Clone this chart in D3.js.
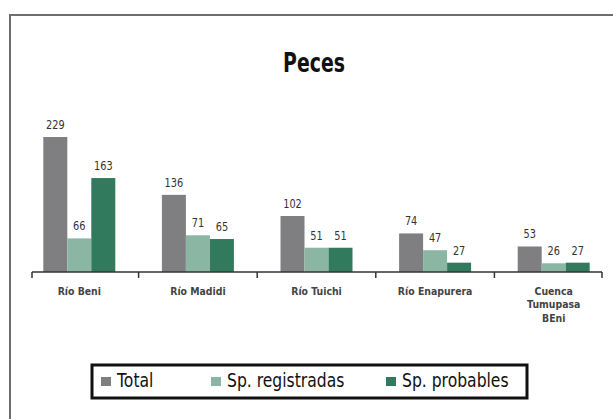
<!DOCTYPE html>
<html>
<head>
<meta charset="utf-8">
<style>
    body { margin: 0; background: #fff; }
    svg { display: block; font-family: 'DejaVu Sans', sans-serif; }
</style>
</head>
<body>
<svg width="613" height="419"></svg>
<script src="https://d3js.org/d3.v7.min.js"></script>
<script>
    // data
    let categories = ["Río Beni", "Río Madidi", "Río Tuichi", "Río Enapurera", "Cuenca\nTumupasa\nBEni"];
    let seriesNames = ["Total", "Sp. registradas", "Sp. probables"];
    let total = [229, 136, 102, 74, 53];
    let registradas = [66, 71, 51, 47, 26];
    let probables = [163, 65, 51, 27, 27];
    let colors = ["#7f7f81", "#8cb6a4", "#327a5e"];

    let series = [total, registradas, probables];
    let rows = categories.map((c, i) => ({ cat: c, vals: series.map(s => s[i]) }));

    let svg = d3.select("svg");

    // no condensed font installed, so squeeze text horizontally
    function squeeze(px, py, sx) {
        return "translate(" + px + "," + py + ") scale(" + sx + ",1)";
    }

    // outer frame (runs off the right / bottom edge)
    svg.append("rect")
        .attr("x", 10).attr("y", 15)
        .attr("width", 620).attr("height", 420)
        .style("fill", "none")
        .style("stroke", "#6d6d6d")
        .style("stroke-width", 2);

    svg.append("text")
        .attr("transform", squeeze(314, 72, 0.7))
        .attr("text-anchor", "middle")
        .style("font-size", "27px")
        .style("font-weight", "bold")
        .style("fill", "#111")
        .text("Peces");

    let baseY = 272;
    let x = d3.scaleBand()
        .domain(categories)
        .range([20, 613]);

    let xInner = d3.scaleBand()
        .domain(seriesNames)
        .range([0, 72]);

    // the printed chart's bars don't start from zero at the baseline
    let y = d3.scaleLinear()
        .domain([12, 229])
        .range([baseY, 137]);

    let groups = svg.selectAll(".grp")
        .data(rows)
        .join("g")
        .attr("class", "grp")
        .attr("transform", d => "translate(" + (x(d.cat) + x.bandwidth() / 2 - 36) + ",0)");

    groups.selectAll("rect")
        .data(d => d.vals.map((v, i) => ({ v: v, s: seriesNames[i], i: i })))
        .join("rect")
        .attr("x", d => xInner(d.s))
        .attr("width", xInner.bandwidth())
        .attr("y", d => y(d.v))
        .attr("height", d => baseY - y(d.v))
        .style("fill", d => colors[d.i]);

    groups.selectAll(".val")
        .data(d => d.vals.map((v, i) => ({ v: v, s: seriesNames[i] })))
        .join("text")
        .attr("class", "val")
        .attr("transform", d => squeeze(xInner(d.s) + xInner.bandwidth() / 2, y(d.v) - 8, 0.75))
        .attr("text-anchor", "middle")
        .style("font-size", "13px")
        .style("fill", "#333")
        .text(d => d.v);

    // axis line + ticks
    svg.append("line")
        .attr("x1", 32).attr("x2", 602)
        .attr("y1", baseY).attr("y2", baseY)
        .style("stroke", "#333").style("stroke-width", 1.5);

    let tickXs = [32].concat(categories.slice(1).map(c => x(c))).concat([602]);
    svg.selectAll(".tick")
        .data(tickXs)
        .join("line")
        .attr("class", "tick")
        .attr("x1", d => d).attr("x2", d => d)
        .attr("y1", baseY).attr("y2", baseY + 6)
        .style("stroke", "#333").style("stroke-width", 1.5);

    let labels = svg.selectAll(".cat")
        .data(categories)
        .join("text")
        .attr("class", "cat")
        .attr("transform", d => squeeze(x(d) + x.bandwidth() / 2, 295, 0.85))
        .attr("text-anchor", "middle")
        .style("font-size", "11px")
        .style("font-weight", "bold")
        .style("fill", "#444");

    labels.selectAll("tspan")
        .data(d => d.split("\n"))
        .join("tspan")
        .attr("x", 0)
        .attr("dy", (d, i) => i === 0 ? 0 : 13.5)
        .text(d => d);

    // legend
    let legend = svg.append("g");
    legend.append("rect")
        .attr("x", 92).attr("y", 365)
        .attr("width", 435).attr("height", 33)
        .style("fill", "#fff")
        .style("stroke", "#111")
        .style("stroke-width", 3);

    let legX = [101, 211, 386];
    let items = legend.selectAll(".leg")
        .data(seriesNames)
        .join("g")
        .attr("class", "leg")
        .attr("transform", (d, i) => "translate(" + legX[i] + ",377)");

    items.append("rect")
        .attr("x", 0).attr("y", 0)
        .attr("width", 10).attr("height", 9)
        .style("fill", (d, i) => colors[i]);

    items.append("text")
        .attr("transform", squeeze(16, 10, 0.78))
        .style("font-size", "20px")
        .style("fill", "#111")
        .text(d => d);
</script>
</body>
</html>
